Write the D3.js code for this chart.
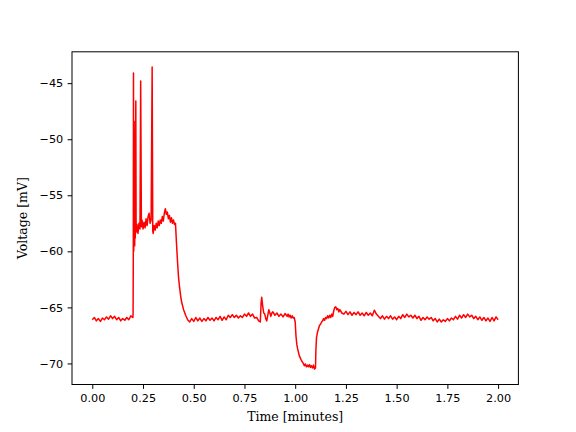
<!DOCTYPE html>
<html>
<head>
<meta charset="utf-8">
<script src="https://cdn.jsdelivr.net/npm/d3@7"></script>
<style>
  body { margin: 0; background: #fff; }
  svg { display: block; }
</style>
</head>
<body>
<svg width="576" height="432"></svg>
<script>
// membrane potential trace

var time = [
  0.00, 0.01, 0.02, 0.03, 0.04, 0.05, 0.06, 0.07, 0.08, 0.09,
  0.10, 0.11, 0.12, 0.13, 0.14, 0.15, 0.16, 0.17, 0.18, 0.19,
  0.20, 0.201, 0.202, 0.203, 0.204, 0.206, 0.209, 0.211, 0.212, 0.2145,
  0.216, 0.22, 0.225, 0.23, 0.235, 0.2385, 0.242, 0.245, 0.25, 0.255,
  0.26, 0.265, 0.27, 0.275, 0.28, 0.285, 0.29, 0.295, 0.298, 0.30,
  0.305, 0.31, 0.315, 0.32, 0.325, 0.33, 0.335, 0.34, 0.345, 0.35,
  0.355, 0.36, 0.365, 0.37, 0.375, 0.38, 0.385, 0.39, 0.395, 0.40,
  0.405, 0.41, 0.415, 0.42, 0.425, 0.43, 0.435, 0.44, 0.45, 0.46,
  0.47, 0.48, 0.49, 0.50, 0.51, 0.52, 0.53, 0.54, 0.55, 0.56,
  0.57, 0.58, 0.59, 0.60, 0.61, 0.62, 0.63, 0.64, 0.65, 0.66,
  0.67, 0.68, 0.69, 0.70, 0.71, 0.72, 0.73, 0.74, 0.75, 0.76,
  0.77, 0.78, 0.79, 0.80, 0.81, 0.82, 0.828, 0.832, 0.835, 0.84,
  0.845, 0.85, 0.855, 0.86, 0.865, 0.87, 0.875, 0.88, 0.885, 0.89,
  0.90, 0.91, 0.92, 0.93, 0.94, 0.95, 0.96, 0.965, 0.97, 0.975,
  0.98, 0.985, 0.99, 0.995, 1.00, 1.004, 1.008, 1.012, 1.016, 1.02,
  1.025, 1.03, 1.035, 1.04, 1.045, 1.05, 1.055, 1.06, 1.065, 1.07,
  1.075, 1.08, 1.085, 1.09, 1.095, 1.10, 1.102, 1.105, 1.11, 1.115,
  1.12, 1.125, 1.13, 1.135, 1.14, 1.145, 1.15, 1.155, 1.16, 1.165,
  1.17, 1.175, 1.18, 1.185, 1.19, 1.195, 1.20, 1.205, 1.21, 1.215,
  1.22, 1.23, 1.24, 1.25, 1.26, 1.27, 1.28, 1.29, 1.30, 1.31,
  1.32, 1.33, 1.34, 1.35, 1.36, 1.37, 1.38, 1.39, 1.40, 1.41,
  1.42, 1.43, 1.44, 1.45, 1.46, 1.47, 1.48, 1.49, 1.50, 1.51,
  1.52, 1.53, 1.54, 1.55, 1.56, 1.57, 1.58, 1.59, 1.60, 1.61,
  1.62, 1.63, 1.64, 1.65, 1.66, 1.67, 1.68, 1.69, 1.70, 1.71,
  1.72, 1.73, 1.74, 1.75, 1.76, 1.77, 1.78, 1.79, 1.80, 1.81,
  1.82, 1.83, 1.84, 1.85, 1.86, 1.87, 1.88, 1.89, 1.90, 1.91,
  1.92, 1.93, 1.94, 1.95, 1.96, 1.97, 1.98, 1.99, 2.00
];

var voltage = [
  -66.1, -65.9, -66.2, -66.0, -66.25, -65.95, -66.1, -65.85, -66.05, -65.75,
  -66.0, -65.8, -66.1, -65.9, -66.2, -66.0, -66.15, -65.9, -66.1, -65.75,
  -65.9, -65.6, -61.0, -44.1, -60.0, -58.5, -59.5, -48.4, -58.8, -46.6,
  -58.3, -57.6, -58.4, -57.5, -58.0, -44.8, -57.8, -57.2, -58.0, -57.4,
  -57.9, -57.1, -57.7, -56.9, -56.6, -57.5, -57.2, -43.55, -58.2, -58.4,
  -57.7, -58.1, -57.5, -57.9, -57.3, -57.7, -57.2, -57.5, -56.9, -57.3,
  -56.6, -56.2, -56.7, -56.5, -57.1, -56.8, -57.4, -57.0, -57.5, -57.2,
  -57.6, -57.5, -59.3, -60.9, -62.3, -63.2, -63.9, -64.5, -65.2, -65.7,
  -66.1, -66.3, -66.0, -66.25, -65.9, -66.2, -65.95, -66.25, -66.0, -66.2,
  -65.9, -66.15, -65.95, -66.2, -65.9, -66.1, -65.8, -66.15, -65.85, -66.1,
  -65.7, -65.9, -65.65, -65.9, -65.7, -65.95, -65.75, -65.9, -65.6, -65.8,
  -65.5, -65.8, -65.6, -65.95, -65.9, -66.2, -66.3, -64.6, -64.1, -64.9,
  -65.5, -65.6, -66.0, -66.2, -65.7, -65.2, -65.5, -65.8, -65.5, -65.4,
  -65.7, -65.5, -65.8, -65.6, -65.85, -65.55, -65.8, -65.6, -65.85, -65.7,
  -65.95, -65.75, -65.95, -65.9, -66.3, -67.6, -68.3, -68.7, -69.0, -69.3,
  -69.5, -69.7, -69.85, -70.0, -70.2, -70.05, -70.3, -70.15, -70.3, -70.1,
  -70.35, -70.2, -70.4, -70.15, -70.5, -70.4, -68.8, -67.7, -67.2, -66.9,
  -66.6, -66.5, -66.3, -66.2, -66.0, -66.15, -65.9, -66.0, -65.75, -65.95,
  -65.7, -65.9, -65.6, -65.8, -65.3, -65.0, -64.95, -65.2, -65.1, -65.4,
  -65.2, -65.5, -65.6, -65.35, -65.65, -65.4, -65.7, -65.45, -65.65, -65.4,
  -65.7, -65.5, -65.75, -65.45, -65.7, -65.5, -65.75, -65.25, -65.6, -65.8,
  -66.0, -65.75, -66.05, -65.8, -66.0, -65.75, -66.05, -65.85, -66.1, -65.8,
  -66.0, -65.65, -65.9, -65.6, -65.85, -65.7, -65.95, -65.7, -66.0, -65.8,
  -66.15, -65.9, -66.1, -65.85, -66.05, -65.9, -66.2, -66.0, -66.3, -66.05,
  -66.3, -66.1, -66.25, -66.0, -66.2, -65.95, -66.1, -65.8, -66.05, -65.7,
  -65.95, -65.65, -65.9, -65.6, -65.85, -65.7, -66.0, -65.8, -66.1, -65.85,
  -66.15, -65.9, -66.2, -65.95, -66.25, -65.9, -66.2, -65.85, -66.1
];

var xTicks = [0, 0.25, 0.5, 0.75, 1.0, 1.25, 1.5, 1.75, 2.0];
var yTicks = [-70, -65, -60, -55, -50, -45];

var svg = d3.select("svg");

var plotLeft = 72, plotRight = 518.4, plotTop = 51.8, plotBottom = 384.5;

// matplotlib style 5% margins
var x = d3.scaleLinear().domain([-0.1, 2.1]).range([plotLeft, plotRight]);
var y = d3.scaleLinear()
    .domain([-70.53 - 0.05 * 26.95, -43.55 + 0.05 * 26.95])
    .range([plotBottom, plotTop]);

var points = time.map(function(t, i){ return [t, voltage[i]]; });

svg.append("defs").append("clipPath").attr("id", "plotclip")
  .append("rect")
    .attr("x", plotLeft).attr("y", plotTop)
    .attr("width", plotRight - plotLeft).attr("height", plotBottom - plotTop);

svg.append("path")
    .datum(points)
    .attr("clip-path", "url(#plotclip)")
    .attr("fill", "none")
    .attr("stroke", "#ff0000")
    .attr("stroke-width", 1.5)
    .attr("stroke-linejoin", "round")
    .attr("d", d3.line()
        .x(function(d){ return x(d[0]); })
        .y(function(d){ return y(d[1]); }));

// axes
var xAxis = svg.append("g")
    .attr("transform", "translate(0," + plotBottom + ")")
    .call(d3.axisBottom(x).tickValues(xTicks).tickFormat(d3.format(".2f"))
      .tickSize(4.4).tickPadding(5).tickSizeOuter(0));

var yAxis = svg.append("g")
    .attr("transform", "translate(" + plotLeft + ",0)")
    .call(d3.axisLeft(y).tickValues(yTicks).tickFormat(function(d){ return "\u2212" + Math.abs(d); })
      .tickSize(4.4).tickPadding(4.4).tickSizeOuter(0));

[xAxis, yAxis].forEach(function(g){
  g.select(".domain").remove();
  g.selectAll(".tick line").attr("stroke", "#000").attr("stroke-width", 1);
  g.selectAll(".tick text")
    .attr("fill", "#000")
    .style("font-family", "DejaVu Sans")
    .style("font-size", "11.25px");
});

// frame
svg.append("rect")
    .attr("x", plotLeft).attr("y", plotTop)
    .attr("width", plotRight - plotLeft).attr("height", plotBottom - plotTop)
    .attr("fill", "none")
    .attr("stroke", "#000")
    .attr("stroke-width", 1);

svg.append("text")
    .attr("x", (plotLeft + plotRight) / 2)
    .attr("y", 421)
    .attr("text-anchor", "middle")
    .style("font-family", "DejaVu Serif")
    .style("font-size", "12.5px")
    .text("Time [minutes]");

svg.append("text")
    .attr("transform", "translate(26.5," + (plotTop + plotBottom) / 2 + ") rotate(-90)")
    .attr("text-anchor", "middle")
    .style("font-family", "DejaVu Serif")
    .style("font-size", "12.5px")
    .text("Voltage [mV]");
</script>
</body>
</html>
